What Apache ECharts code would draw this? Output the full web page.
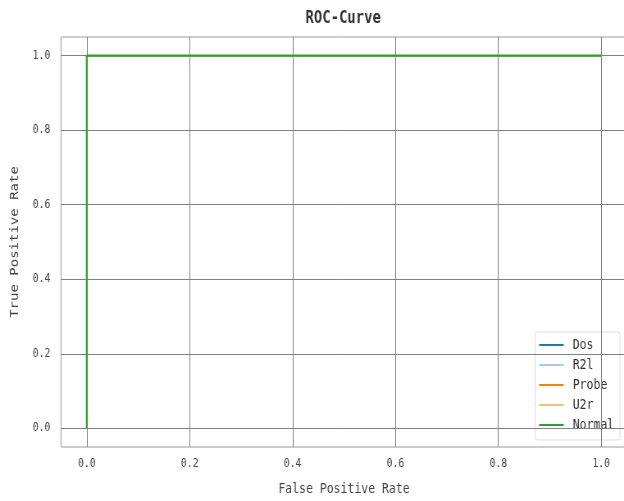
<!DOCTYPE html>
<html><head><meta charset="utf-8">
<script src="https://cdn.jsdelivr.net/npm/echarts@6/dist/echarts.min.js"></script>
<style>
html,body{margin:0;padding:0;background:#fff;overflow:hidden;width:624px;height:501px}
#c{width:761px;height:501px;transform:scaleX(0.82);transform-origin:0 0}
</style>
</head><body><div id="c"></div>
<script>
const seriesNames = ['Dos', 'R2l', 'Probe', 'U2r', 'Normal'];
const seriesColors = ['#1f77b4', '#aec7e8', '#ff7f0e', '#ffbb78', '#2ca02c'];
const fpr = [
  [0, 0, 1],
  [0, 0, 1],
  [0, 0, 1],
  [0, 0, 1],
  [0, 0, 1]
];
const tpr = [
  [0, 1, 1],
  [0, 1, 1],
  [0, 1, 1],
  [0, 1, 1],
  [0, 1, 1]
];
const xTicks = [0, 0.2, 0.4, 0.6, 0.8, 1.0];
const yTicks = [0, 0.2, 0.4, 0.6, 0.8, 1.0];

const font = 'DejaVu Sans Mono';
const chart = echarts.init(document.getElementById('c'));
const series = seriesNames.map((n, i) => ({
  name: n, type: 'line', showSymbol: false, symbol: 'none',
  data: fpr[i].map((x, j) => [x, tpr[i][j]]),
  lineStyle: { color: seriesColors[i], width: i === seriesNames.length - 1 ? 2.2 : 1.4 },
  itemStyle: { color: seriesColors[i] },
  animation: false, z: 3 + i
}));
series.push({
  type: 'line', data: [], silent: true, animation: false,
  markLine: {
    silent: true, symbol: 'none', label: { show: false }, animation: false,
    lineStyle: { color: '#808080', width: 1, type: 'solid' },
    data: xTicks.map(v => ({ xAxis: v })).concat(yTicks.map(v => ({ yAxis: v })))
  },
  z: 1
});
chart.setOption({
  animation: false,
  backgroundColor: '#fff',
  title: {
    text: 'ROC-Curve', left: 413.5, top: 5, textAlign: 'center',
    textStyle: { fontFamily: font, fontSize: 17, fontWeight: 'bold', color: '#333' }
  },
  grid: { left: 74.4, top: 37, width: 690.2, height: 410, show: true, borderColor: '#999', borderWidth: 1, containLabel: false, outerBoundsMode: 'none' },
  xAxis: {
    type: 'value', min: -0.05, max: 1.05,
    name: 'False Positive Rate', nameLocation: 'middle', nameGap: 35,
    nameTextStyle: { fontFamily: font, fontSize: 14, color: '#444' },
    axisLine: { show: false },
    axisTick: { show: true, customValues: xTicks, length: 5, lineStyle: { color: '#808080' } },
    axisLabel: { customValues: xTicks, fontFamily: font, fontSize: 12, color: '#444', margin: 11, formatter: v => v.toFixed(1) },
    splitLine: { show: false }
  },
  yAxis: {
    type: 'value', min: -0.05, max: 1.05,
    name: 'True Positive Rate', nameLocation: 'middle', nameGap: 49,
    nameTextStyle: { fontFamily: font, fontSize: 14, color: '#444' },
    axisLine: { show: false },
    axisTick: { show: true, customValues: yTicks, length: 6, lineStyle: { color: '#808080' } },
    axisLabel: { customValues: yTicks, fontFamily: font, fontSize: 12, color: '#444', margin: 13, formatter: v => v.toFixed(1) },
    splitLine: { show: false }
  },
  legend: {
    data: seriesNames, orient: 'vertical', right: 5, bottom: 61,
    backgroundColor: '#fff', borderColor: '#dcdcdc', borderWidth: 1, borderRadius: 3,
    padding: [6, 7, 8, 5], itemGap: 6, itemWidth: 30, itemHeight: 2,
    icon: 'rect',
    textStyle: { fontFamily: font, fontSize: 14, lineHeight: 14, color: '#333', padding: [0, 0, 0, 6] }
  },
  series: series
});
</script></body></html>
